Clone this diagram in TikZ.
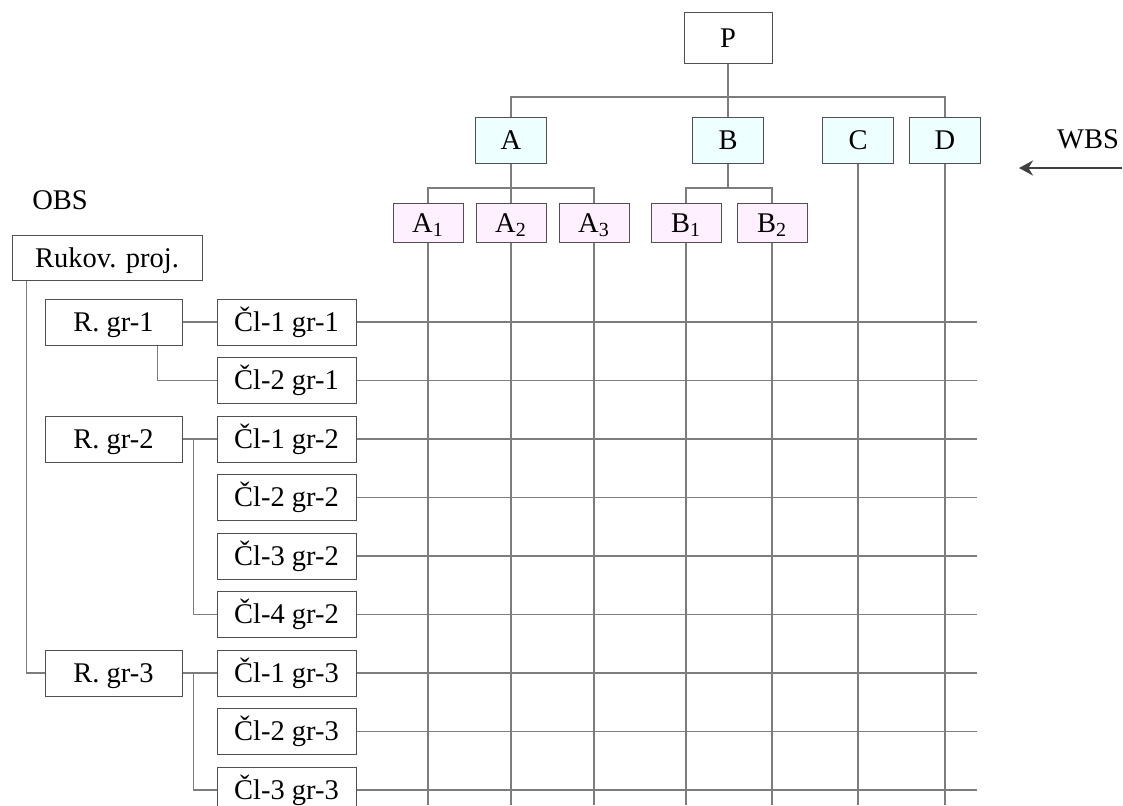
\documentclass[tikz,border=0pt]{standalone}
\usepackage{fontspec}
\setmainfont{Liberation Serif}
\usetikzlibrary{arrows.meta}
\definecolor{boxline}{RGB}{80,80,80}
\definecolor{gridline}{RGB}{125,125,125}
\definecolor{arrowgray}{RGB}{64,64,64}
\definecolor{wbsfill}{RGB}{238,255,255}
\definecolor{subfill}{RGB}{255,240,255}
\tikzset{
  box/.style   = {draw=boxline, line width=0.5pt, inner sep=0pt, minimum height=23pt, text height=9.4pt, text depth=0pt, font=\rmfamily\fontsize{14.25}{17}\selectfont},
  wbox/.style  = {box, fill=wbsfill, minimum width=35.5pt},
  sbox/.style  = {box, fill=subfill, minimum width=35pt, minimum height=19.5pt},
  obox/.style  = {box, minimum width=68.5pt},
  cbox/.style  = {box, minimum width=69.5pt},
  tag/.style   = {inner sep=0pt, text height=9.4pt, text depth=0pt, font=\rmfamily\fontsize{14.25}{17}\selectfont},
  link/.style  = {draw=gridline, line width=0.55pt},
  arrow/.style = {-{Stealth[length=7pt, width=7.5pt]}, draw=arrowgray, fill=arrowgray, line width=1pt}
}

\begin{document}
\begin{tikzpicture}[x=0.5pt, y=-0.5pt]
  \useasboundingbox (0,0) rectangle (1123,805);

  \node[box, minimum width=44pt, minimum height=25.5pt] (P) at (728,38) {P};
  \node[wbox] (A) at (511,140) {A};
  \node[wbox] (B) at (728,140) {B};
  \node[wbox] (C) at (858,140) {C};
  \node[wbox] (D) at (945,140) {D};
  \node[sbox] (A1) at (428,223) {A\textsubscript{1}};
  \node[sbox] (A2) at (511,223) {A\textsubscript{2}};
  \node[sbox] (A3) at (594,223) {A\textsubscript{3}};
  \node[sbox] (B1) at (686,223) {B\textsubscript{1}};
  \node[sbox] (B2) at (772,223) {B\textsubscript{2}};

  \node[tag] (wbs) at (1088,139) {WBS};
  \node[tag] (obs) at (60,200) {OBS};

  \node[box, minimum width=95pt, minimum height=22.5pt] (rukov) at (107,258) {Rukov. proj.};
  \node[obox] (R1) at (113.5,322) {R. gr-1};
  \node[obox] (R2) at (113.5,439) {R. gr-2};
  \node[obox] (R3) at (113.5,673) {R. gr-3};

  \node[cbox] (m11) at (286.5,322)   {Čl-1 gr-1};
  \node[cbox] (m21) at (286.5,380.5) {Čl-2 gr-1};
  \node[cbox] (m12) at (286.5,439)   {Čl-1 gr-2};
  \node[cbox] (m22) at (286.5,497.5) {Čl-2 gr-2};
  \node[cbox] (m32) at (286.5,556)   {Čl-3 gr-2};
  \node[cbox] (m42) at (286.5,614.5) {Čl-4 gr-2};
  \node[cbox] (m13) at (286.5,673)   {Čl-1 gr-3};
  \node[cbox] (m23) at (286.5,731.5) {Čl-2 gr-3};
  \node[cbox] (m33) at (286.5,790)   {Čl-3 gr-3};

  \coordinate (pjoin) at (728,97);
  \coordinate (ajoin) at (511,188);
  \coordinate (bjoin) at (728,188);
  \coordinate (rowend) at (977,0);
  \coordinate (colend) at (0,805);
  \coordinate (wbsfrom) at (1122,168);
  \coordinate (wbsto) at (1019,168);

  \draw[link] (P) -- (B);
  \draw[link] (A.north) |- (pjoin) -| (D.north);
  \draw[link] (A) -- (A2);
  \draw[link] (A1.north) |- (ajoin) -| (A3.north);
  \draw[link] (B.south) -- (bjoin);
  \draw[link] (B1.north) |- (bjoin) -| (B2.north);

  \draw[link] ([xshift=7.5pt]rukov.south west) |- (R3.west);
  \draw[link] (R1) -- (m11);
  \draw[link] ([xshift=-12.5pt]R1.south east) |- (m21.west);
  \draw[link] (R2) -- (m12);
  \draw[link] ([xshift=-11.5pt]m12.west) |- (m42.west);
  \draw[link] (R3) -- (m13);
  \draw[link] ([xshift=-11.5pt]m13.west) |- (m33.west);

  \foreach \m in {m11,m21,m12,m22,m32,m42,m13,m23,m33}
    \draw[link] (\m.east) -- (\m.east -| rowend);
  \foreach \n in {A1,A2,A3,B1,B2,C,D}
    \draw[link] (\n.south) -- (\n.south |- colend);

  \draw[arrow] (wbsfrom) -- (wbsto);
\end{tikzpicture}
\end{document}
